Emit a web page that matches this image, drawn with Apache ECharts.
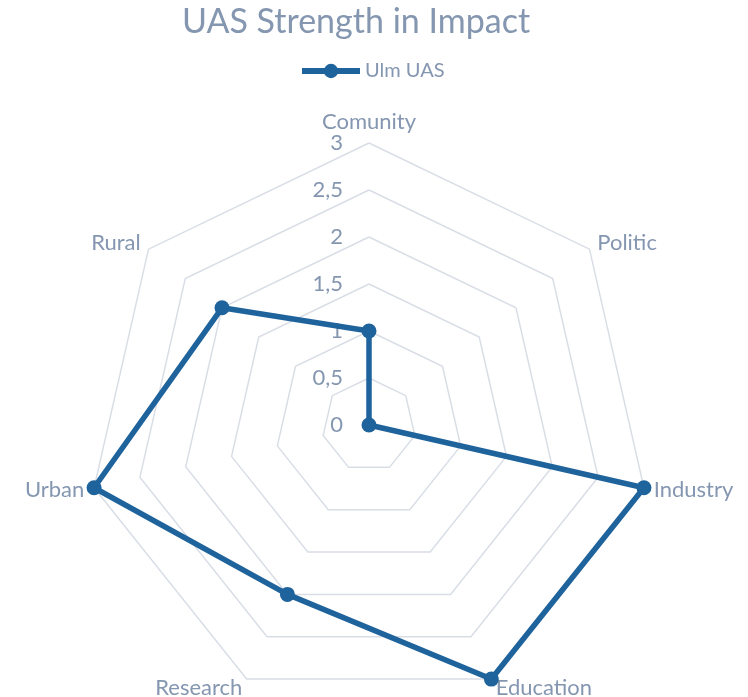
<!DOCTYPE html>
<html>
<head>
<meta charset="utf-8">
<script src="https://cdn.jsdelivr.net/npm/echarts@6/dist/echarts.min.js"></script>
<style>
  html, body { margin: 0; padding: 0; background: #fff; }
  #chart { width: 748px; height: 697px; }
</style>
</head>
<body>
<div id="chart"></div>
<script>
// categories listed clockwise starting from the top
var categories = ['Comunity', 'Politic', 'Industry', 'Education', 'Research', 'Urban', 'Rural'];
var ulmValues = [1, 0, 3, 3, 2, 3, 2];
var tickValues = [0, 0.5, 1, 1.5, 2, 2.5, 3];
var seriesName = 'Ulm UAS';

var textColor = '#8496b0';
var lineColor = '#1f639c';
var font = 'Lato, "Open Sans", sans-serif';

var chart = echarts.init(document.getElementById('chart'));

var cx = 369, cy = 425, r = 282;

// echarts radar runs counter-clockwise, so keep the first item and reverse the rest
var order = [0];
for (var i = categories.length - 1; i > 0; i--) order.push(i);
var radarNames = order.map(function(i) { return categories[i]; });
var radarValues = order.map(function(i) { return ulmValues[i]; });

var option = {
  title: {
    text: 'UAS Strength in Impact',
    left: 177,
    top: 0,
    textStyle: { color: textColor, fontSize: 34, fontWeight: 'normal', fontFamily: font }
  },
  legend: {
    data: [seriesName],
    top: 56,
    left: 294,
    itemWidth: 58,
    itemHeight: 18,
    itemGap: 4,
    lineStyle: { width: 6 },
    textStyle: { color: textColor, fontSize: 20, fontFamily: font }
  },
  radar: {
    center: [cx, cy],
    radius: r,
    startAngle: 90,
    shape: 'polygon',
    splitNumber: tickValues.length - 1,
    indicator: radarNames.map(function(name) {
      return { name: name, min: tickValues[0], max: tickValues[tickValues.length - 1] };
    }),
    axisName: { color: textColor, fontSize: 22, fontFamily: font },
    nameGap: 10,
    splitArea: { show: false },
    splitLine: { lineStyle: { color: '#d9dee6', width: 1.5 } },
    axisLine: { show: false },
    axisTick: { show: false },
    axisLabel: { show: false }
  },
  // helper axis that carries the tick labels along the vertical spoke
  grid: {
    left: cx,
    top: cy - r,
    width: 1,
    height: r
  },
  xAxis: { type: 'value', show: false },
  yAxis: {
    type: 'value',
    min: tickValues[0],
    max: tickValues[tickValues.length - 1],
    interval: tickValues[1] - tickValues[0],
    axisLine: { show: false },
    axisTick: { show: false },
    splitLine: { show: false },
    axisLabel: {
      color: textColor,
      fontSize: 22,
      fontFamily: font,
      margin: 26,
      formatter: function(v) {
        return String(v).replace('.', ',');
      }
    }
  },
  series: [
    {
      // empty line series only so the legend gets a line+marker icon
      name: seriesName,
      type: 'line',
      symbol: 'circle',
      symbolSize: 16,
      itemStyle: { color: lineColor },
      lineStyle: { color: lineColor, width: 6 },
      data: []
    },
    {
      name: seriesName,
      type: 'radar',
      symbol: 'circle',
      symbolSize: 15,
      itemStyle: { color: lineColor },
      lineStyle: { color: lineColor, width: 5.5 },
      data: [{ value: radarValues, name: seriesName }]
    }
  ]
};

chart.setOption(option);
</script>
</body>
</html>
